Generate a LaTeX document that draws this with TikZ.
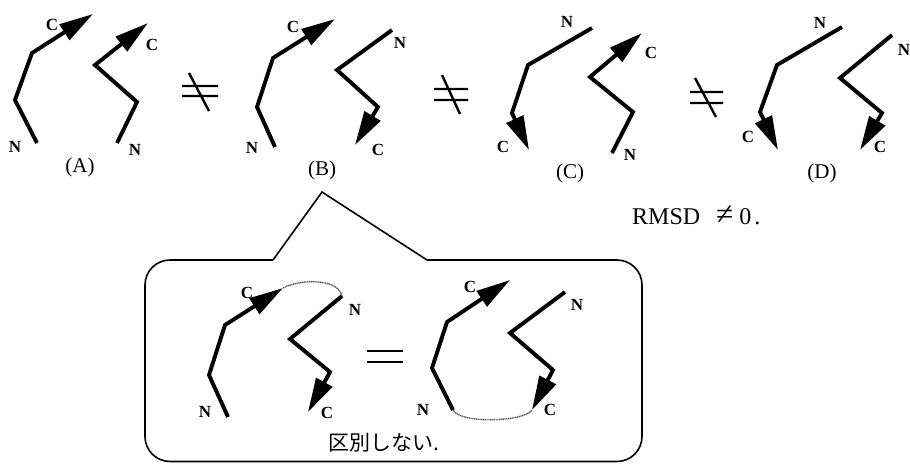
\documentclass[tikz,border=0pt]{standalone}
\usepackage{fontspec}
\setmainfont{Liberation Serif}
\newfontfamily\cjk{Noto Sans CJK JP}
\usetikzlibrary{arrows.meta}
\begin{document}
\begin{tikzpicture}[x=1pt,y=-1pt,
  chain/.style={line width=3.9pt, line join=miter, -{Triangle[length=34pt,width=18pt]}},
  atom/.style={font=\bfseries\fontsize{17}{17}\selectfont, inner sep=0pt},
  tag/.style={font=\fontsize{21}{21}\selectfont, inner sep=0pt},
  relsym/.style={line width=2.4pt},
  link/.style={line width=1.4pt, gray!70!black, dash pattern=on 1.2pt off 0.6pt},
  callout/.style={line width=1.6pt}]
\useasboundingbox (0,0) rectangle (910,464);

% ---------- pair (A)
\coordinate (a1n) at (37,143); \coordinate (a1p) at (15,100);
\coordinate (a1q) at (32,53);  \coordinate (a1c) at (93,14);
\draw[chain] (a1n) -- (a1p) -- (a1q) -- (a1c);
\coordinate (a2n) at (117,143); \coordinate (a2p) at (137,102);
\coordinate (a2q) at (95,65);   \coordinate (a2c) at (148,23);
\draw[chain] (a2n) -- (a2p) -- (a2q) -- (a2c);
\node[atom] (la1c) at (52,25) {C};
\node[atom] (la1n) at (15,147) {N};
\node[atom] (la2c) at (152,45) {C};
\node[atom] (la2n) at (135,150) {N};
\node[tag] (tA) at (80,167) {(A)};

% ---------- pair (B)
\coordinate (b1n) at (275,147); \coordinate (b1p) at (257,107);
\coordinate (b1q) at (273,58);  \coordinate (b1c) at (335,19);
\draw[chain] (b1n) -- (b1p) -- (b1q) -- (b1c);
\coordinate (b2n) at (392,30);  \coordinate (b2p) at (337,70);
\coordinate (b2q) at (378,107); \coordinate (b2c) at (355,145);
\draw[chain] (b2n) -- (b2p) -- (b2q) -- (b2c);
\node[atom] (lb1c) at (293,27) {C};
\node[atom] (lb1n) at (252,148) {N};
\node[atom] (lb2n) at (400,43) {N};
\node[atom] (lb2c) at (378,150) {C};
\node[tag] (tB) at (322,170) {(B)};

% ---------- pair (C)
\coordinate (c1n) at (592,28);  \coordinate (c1p) at (528,65);
\coordinate (c1q) at (512,113); \coordinate (c1c) at (529,150);
\draw[chain] (c1n) -- (c1p) -- (c1q) -- (c1c);
\coordinate (c2n) at (612,153); \coordinate (c2p) at (633,112);
\coordinate (c2q) at (590,77);  \coordinate (c2c) at (642,33);
\draw[chain] (c2n) -- (c2p) -- (c2q) -- (c2c);
\node[atom] (lc1n) at (567,22) {N};
\node[atom] (lc1c) at (503,147) {C};
\node[atom] (lc2c) at (651,53) {C};
\node[atom] (lc2n) at (630,155) {N};
\node[tag] (tC) at (570,173) {(C)};

% ---------- pair (D)
\coordinate (d1n) at (842,27);  \coordinate (d1p) at (777,65);
\coordinate (d1q) at (760,112); \coordinate (d1c) at (778,150);
\draw[chain] (d1n) -- (d1p) -- (d1q) -- (d1c);
\coordinate (d2n) at (892,35);  \coordinate (d2p) at (840,78);
\coordinate (d2q) at (882,113); \coordinate (d2c) at (860,150);
\draw[chain] (d2n) -- (d2p) -- (d2q) -- (d2c);
\node[atom] (ld1n) at (820,23) {N};
\node[atom] (ld1c) at (748,137) {C};
\node[atom] (ld2n) at (904,50) {N};
\node[atom] (ld2c) at (880,147) {C};
\node[tag] (tD) at (822,173) {(D)};

% ---------- "not equal" marks between the pairs
\draw[relsym] (182,86) -- (218,86) (182,96) -- (218,96) (189,73) -- (209,111);
\draw[relsym] (434,89) -- (468,89) (434,100) -- (468,100) (442,75) -- (460,114);
\draw[relsym] (690,92) -- (723,92) (690,103) -- (723,103) (695,78) -- (716,117);

\node[font=\fontsize{24}{24}\selectfont, inner sep=0pt, anchor=base west] (rmsd) at (632,224)
  {RMSD\hspace{16pt}\scalebox{1.3}{≠}\hspace{6pt}0\hspace{3pt}.};

% ---------- callout box from (B)
\coordinate (peak) at (322,192);
\draw[callout, rounded corners=25pt] (427,260) -- (642,260) -- (642,461.5) -- (145,461.5) -- (145,260) -- (273,260);
\draw[callout, line join=miter] (273,260) -- (peak) -- (427,260);

% left pair, with the C end joined to the N end
\coordinate (e1n) at (228,417); \coordinate (e1p) at (209,375);
\coordinate (e1q) at (225,325); \coordinate (e1c) at (283,288);
\draw[chain] (e1n) -- (e1p) -- (e1q) -- (e1c);
\coordinate (e2n) at (342,296); \coordinate (e2p) at (290,339);
\coordinate (e2q) at (330,372); \coordinate (e2c) at (308,412);
\draw[chain] (e2n) -- (e2p) -- (e2q) -- (e2c);
\draw[link] (e1c) .. controls (300,279) and (338,278) .. (e2n);
\node[atom] (le1c) at (247,293) {C};
\node[atom] (le1n) at (205,412) {N};
\node[atom] (le2n) at (355,310) {N};
\node[atom] (le2c) at (327,413) {C};

% equals sign
\draw[relsym] (367,351) -- (403,351) (367,362) -- (403,362);

% right pair, with the N end joined to the C end
\coordinate (f1n) at (453,410); \coordinate (f1p) at (432,368);
\coordinate (f1q) at (447,322); \coordinate (f1c) at (510,280);
\draw[chain] (f1n) -- (f1p) -- (f1q) -- (f1c);
\coordinate (f2n) at (565,292); \coordinate (f2p) at (510,333);
\coordinate (f2q) at (553,370); \coordinate (f2c) at (532,410);
\draw[chain] (f2n) -- (f2p) -- (f2q) -- (f2c);
\draw[link] (f1n) .. controls (460,424) and (524,422) .. (f2c);
\node[atom] (lf1c) at (470,287) {C};
\node[atom] (lf1n) at (423,410) {N};
\node[atom] (lf2n) at (577,305) {N};
\node[atom] (lf2c) at (550,410) {C};

\node[font=\cjk\fontsize{21}{21}\selectfont, inner sep=0pt] (note) at (384,443) {区別しない.};
\end{tikzpicture}
\end{document}
